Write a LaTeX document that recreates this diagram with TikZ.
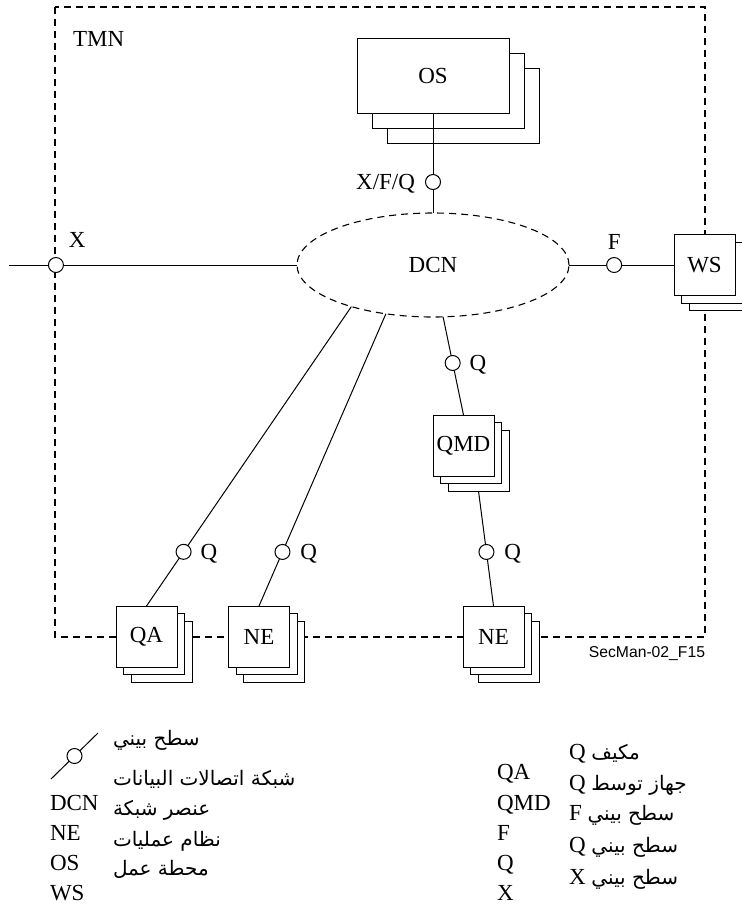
\documentclass[tikz,border=0pt]{standalone}
\usepackage{fontspec}
\setmainfont{Liberation Serif}
\newfontfamily\arabicfont[Script=Arabic]{DejaVu Sans}
\newfontfamily\secfont{Liberation Sans}
\TeXXeTstate=1
\usetikzlibrary{shapes.geometric,shadows,calc}
\newcommand{\arsz}{\arabicfont\fontsize{20}{24}\selectfont}
\begin{document}
\begin{tikzpicture}[x=1pt,y=-1pt,
  every node/.style={font=\fontsize{23}{27}\selectfont, inner sep=0pt, outer sep=0pt},
  ln/.style={line width=1pt, black},
  dsh/.style={line width=1.1pt, dash pattern=on 7pt off 5pt},
  ifc/.style={circle, draw, fill=white, line width=1pt, minimum size=15pt},
  lbl/.style={anchor=base west},
  stackbox/.style={draw, fill=white, line width=1pt, minimum width=61pt, minimum height=61pt,
     copy shadow={shadow xshift=15pt, shadow yshift=-15pt, fill=white, draw=black},
     copy shadow={shadow xshift=7.5pt, shadow yshift=-7.5pt, fill=white, draw=black}},
  bigbox/.style={draw, fill=white, line width=1pt, minimum width=152pt, minimum height=75pt,
     copy shadow={shadow xshift=30pt, shadow yshift=-30pt, fill=white, draw=black},
     copy shadow={shadow xshift=15pt, shadow yshift=-15pt, fill=white, draw=black}},
  ar/.style={font=\arsz, anchor=base west},
  arq/.style={anchor=base west},
  lat/.style={anchor=base west}
]
\useasboundingbox (0,0) rectangle (742,906);
% TMN boundary
\draw[dsh] (55,7) rectangle (705,637);
\node[anchor=base west] (tmn) at (73,46.5) {TMN};
% nodes
\node[bigbox] (os) at (433,75.5) {OS};
\node[ellipse, draw, dsh, fill=white, minimum width=272pt, minimum height=104pt] (dcn) at (433,265) {DCN};
\node[stackbox] (ws) at (704.5,265) {WS};
\node[stackbox] (qmd) at (463.5,445.5) {QMD};
\node[stackbox] (qa) at (146.5,636.5) {QA};
\node[stackbox] (ne1) at (259,636.5) {NE};
\node[stackbox] (ne2) at (493.5,636.5) {NE};
\coordinate (xend) at (9,265);
% connectors
\draw[ln] (os.south) -- node[ifc,pos=0.69] (c1) {} (dcn.north);
\draw[ln] (xend) -- node[ifc,pos=0.163] (c2) {} (dcn.west);
\draw[ln] (dcn.east) -- node[ifc,pos=0.43] (c3) {} (ws.west);
\draw[ln] (dcn.207) -- node[ifc,pos=0.819] (c4) {} (qa.north);
\draw[ln] (dcn.226) -- node[ifc,pos=0.815] (c5) {} (ne1.north);
\draw[ln] (dcn.281) -- node[ifc,pos=0.47] (c6) {} (qmd.north);
\draw[ln] ([shift={(15,15)}]qmd.south) -- node[ifc,pos=0.53] (c7) {} (ne2.north);
% labels
\node[anchor=base east] (lxfq) at ($(c1)+(-18,7.5)$) {X/F/Q};
\node[lbl] (lx) at ($(c2)+(13,-17.5)$) {X};
\node[anchor=base] (lf) at ($(c3)+(0,-15.5)$) {F};
\node[lbl] (lq1) at ($(c4)+(17,7.5)$) {Q};
\node[lbl] (lq2) at ($(c5)+(18,7.5)$) {Q};
\node[lbl] (lq3) at ($(c6)+(17,7.5)$) {Q};
\node[lbl] (lq4) at ($(c7)+(18,7.5)$) {Q};
\node[font=\secfont\fontsize{15.7}{18}\selectfont, anchor=base east] (sec) at (705,657.5) {SecMan-02\_F15};
% legend, left
\coordinate (lga) at (51,779);
\coordinate (lgb) at (98,733);
\draw[ln] (lga) -- node[ifc] (lgc) {} (lgb);
\node[ar] (a1) at (113,745) {\beginR سطح بيني\endR};
\node[ar] (a2) at (113,785) {\beginR شبكة اتصالات البيانات\endR};
\node[ar] (a3) at (113,815) {\beginR عنصر شبكة\endR};
\node[ar] (a4) at (113,846) {\beginR نظام عمليات\endR};
\node[ar] (a5) at (113,875) {\beginR محطة عمل\endR};
\node[lat] (l1) at (50,810.5) {DCN};
\node[lat] (l2) at (50,840.5) {NE};
\node[lat] (l3) at (50,870.5) {OS};
\node[lat] (l4) at (50,900.5) {WS};
% legend, right
\node[lat] (r1) at (497,779.5) {QA};
\node[lat] (r2) at (497,810.5) {QMD};
\node[lat] (r3) at (497,840.5) {F};
\node[lat] (r4) at (497,870.5) {Q};
\node[lat] (r5) at (497,900.5) {X};
\node[arq] (s1) at (569,759.5) {\beginR{\arsz مكيف} Q\endR};
\node[arq] (s2) at (569,790.5) {\beginR{\arsz جهاز توسط} Q\endR};
\node[arq] (s3) at (569,820.5) {\beginR{\arsz سطح بيني} F\endR};
\node[arq] (s4) at (569,852.5) {\beginR{\arsz سطح بيني} Q\endR};
\node[arq] (s5) at (569,884.5) {\beginR{\arsz سطح بيني} X\endR};
\end{tikzpicture}
\end{document}
